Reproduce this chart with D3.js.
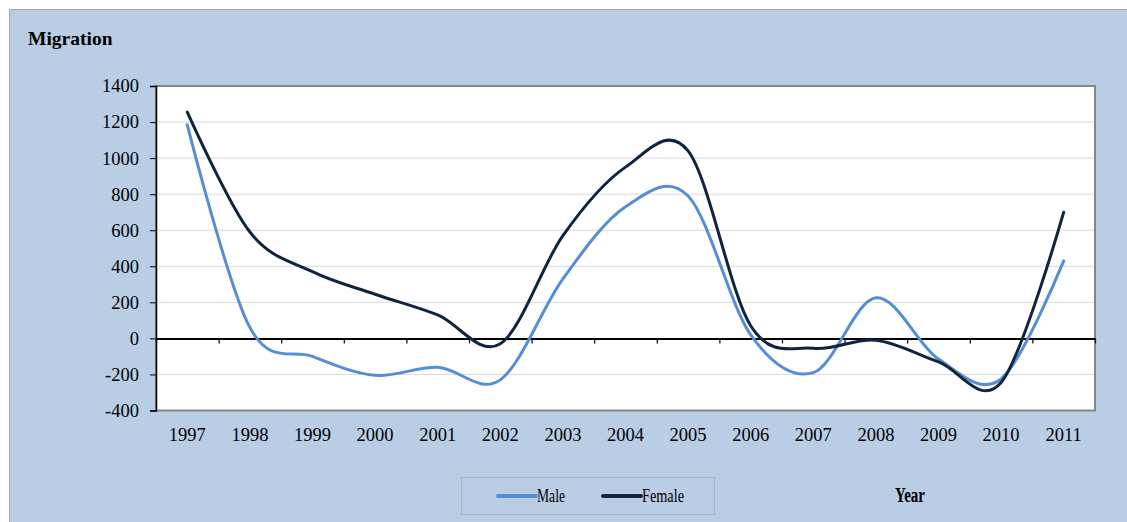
<!DOCTYPE html>
<html>
<head>
<meta charset="utf-8">
<script src="https://cdn.jsdelivr.net/npm/d3@7"></script>
<style>
  html, body { margin: 0; padding: 0; background: #fff; }
  svg { display: block; }
  text { font-family: "Liberation Serif", "Times New Roman", serif; }
</style>
</head>
<body>
<div id="chart"></div>
<script>
// data
const years = ["1997", "1998", "1999", "2000", "2001", "2002", "2003", "2004",
               "2005", "2006", "2007", "2008", "2009", "2010", "2011"];
const male = [1185, 60, -100, -205, -160, -230, 330, 730, 790, 20, -190, 225, -115, -225, 430];
const female = [1255, 590, 370, 245, 130, -30, 570, 950, 1040, 70, -55, -10, -130, -245, 700];
const yTicks = [-400, -200, 0, 200, 400, 600, 800, 1000, 1200, 1400];

const width = 1127, height = 522;
const plot = { left: 156, right: 1095, top: 86, bottom: 410.5 };

const svg = d3.select("#chart")
  .append("svg")
  .attr("width", width)
  .attr("height", height);

// outer chart panel
svg.append("rect")
  .attr("x", 9.5).attr("y", 9.5)
  .attr("width", width).attr("height", height)
  .attr("fill", "#b9cde5")
  .attr("stroke", "#a6a6a6");

svg.append("text")
  .attr("x", 28).attr("y", 44.5)
  .attr("font-size", "19.5px")
  .attr("font-weight", "bold")
  .text("Migration");

// scales
const x = d3.scaleBand()
  .domain(years)
  .range([plot.left, plot.right])
  .padding(0);

const xEdge = d3.scaleLinear()
  .domain([0, years.length])
  .range([plot.left, plot.right]);

const y = d3.scaleLinear()
  .domain([-400, 1400])
  .range([plot.bottom, plot.top]);

// plot area
svg.append("rect")
  .attr("x", plot.left).attr("y", plot.top)
  .attr("width", plot.right - plot.left)
  .attr("height", plot.bottom - plot.top)
  .attr("fill", "#fff")
  .attr("stroke", "#868686")
  .attr("stroke-width", 2);

// gridlines
svg.append("g")
  .selectAll("line")
  .data(yTicks.filter(d => d !== 0 && d !== -400 && d !== 1400))
  .enter().append("line")
  .attr("x1", plot.left).attr("x2", plot.right - 1)
  .attr("y1", d => y(d)).attr("y2", d => y(d))
  .attr("stroke", "#d9d9d9")
  .attr("stroke-width", 1);

// y axis (plain hyphen for negatives, like the original)
const yAxis = svg.append("g")
  .attr("transform", "translate(" + plot.left + ",0)")
  .call(d3.axisLeft(y).tickValues(yTicks).tickSize(6).tickPadding(11).tickFormat(d => String(d)));
yAxis.select(".domain").attr("stroke", "#000").attr("stroke-width", 1.5);
yAxis.selectAll(".tick line").attr("stroke", "#000");
yAxis.selectAll("text")
  .attr("font-family", "Liberation Serif")
  .attr("font-size", "18.5px")
  .attr("fill", "#000");

// zero line with tick marks at category edges
const zeroAxis = svg.append("g")
  .attr("transform", "translate(0," + y(0) + ")")
  .call(d3.axisBottom(xEdge).tickValues(d3.range(years.length + 1)).tickSize(5).tickSizeOuter(0).tickFormat(""));
zeroAxis.select(".domain").attr("stroke", "#000").attr("stroke-width", 2);
zeroAxis.selectAll(".tick line").attr("stroke", "#000").attr("stroke-width", 1.2);

// year labels below the plot
const xAxis = svg.append("g")
  .attr("transform", "translate(0," + plot.bottom + ")")
  .call(d3.axisBottom(x).tickSize(0).tickPadding(17));
xAxis.select(".domain").remove();
xAxis.selectAll("text")
  .attr("font-family", "Liberation Serif")
  .attr("font-size", "18.5px")
  .attr("fill", "#000");

// smoothed lines
const line = d3.line()
  .x((d, i) => x(years[i]) + x.bandwidth() / 2)
  .y(d => y(d))
  .curve(d3.curveCardinal.tension(0));

svg.append("path")
  .datum(male)
  .attr("fill", "none")
  .attr("stroke", "#558ed5")
  .attr("stroke-width", 3)
  .attr("stroke-linecap", "round")
  .attr("d", line);

svg.append("path")
  .datum(female)
  .attr("fill", "none")
  .attr("stroke", "#10243e")
  .attr("stroke-width", 3)
  .attr("stroke-linecap", "round")
  .attr("d", line);

// legend
const legend = svg.append("g");
legend.append("rect")
  .attr("x", 461.5).attr("y", 477.5)
  .attr("width", 253).attr("height", 37)
  .attr("fill", "none")
  .attr("stroke", "#a3b4cb");

const items = [
  { name: "Male", color: "#558ed5", x: 498, w: 28 },
  { name: "Female", color: "#10243e", x: 603, w: 42 }
];
items.forEach(it => {
  legend.append("line")
    .attr("x1", it.x).attr("x2", it.x + 38)
    .attr("y1", 496).attr("y2", 496)
    .attr("stroke", it.color)
    .attr("stroke-width", 4)
    .attr("stroke-linecap", "round");
  legend.append("text")
    .attr("x", it.x + 39).attr("y", 502)
    .attr("font-size", "19px")
    .attr("textLength", it.w)
    .attr("lengthAdjust", "spacingAndGlyphs")
    .text(it.name);
});

svg.append("text")
  .attr("x", 895).attr("y", 501.5)
  .attr("font-size", "20px")
  .attr("font-weight", "bold")
  .attr("textLength", 30)
  .attr("lengthAdjust", "spacingAndGlyphs")
  .text("Year");
</script>
</body>
</html>
